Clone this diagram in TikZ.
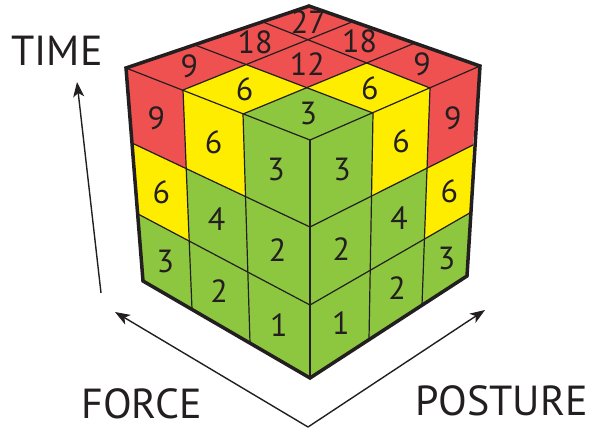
\documentclass[tikz,border=0pt]{standalone}
\usepackage{fontspec}
\setmainfont{PT Sans}
\usetikzlibrary{arrows.meta,calc}
\definecolor{cred}{RGB}{239,80,80}
\definecolor{cyel}{RGB}{255,237,0}
\definecolor{cgrn}{RGB}{141,198,63}
\definecolor{ink}{RGB}{35,31,32}
\newcommand\facecells[2]{%
  \foreach \p in {0,1,2}{\foreach \q in {0,1,2}{%
    \pgfmathtruncatemacro\pp{\p+1}%
    \pgfmathtruncatemacro\qq{\q+1}%
    \pgfmathtruncatemacro\val{#2*\pp*\qq}%
    \ifnum\val<5 \def\cc{cgrn}\else\ifnum\val<9 \def\cc{cyel}\else\def\cc{cred}\fi\fi
    \fill[\cc] (#1\p\q) -- (#1\pp\q) -- (#1\pp\qq) -- (#1\p\qq) -- cycle;
  }}}
\newcommand\facelabels[2]{%
  \foreach \p in {0,1,2}{\foreach \q in {0,1,2}{%
    \pgfmathtruncatemacro\pp{\p+1}%
    \pgfmathtruncatemacro\qq{\q+1}%
    \pgfmathtruncatemacro\val{#2*\pp*\qq}%
    \edef\tmpcmd{\noexpand\node[num] (n#1\p\q) at (intersection of #1\p\q--#1\pp\qq\space and #1\pp\q--#1\p\qq) {\val};}%
    \tmpcmd
  }}}
\newcommand\faceinner[1]{%
  \foreach \p in {1,2}{\foreach \q in {1,2}{%
    \edef\tmpcmd{\noexpand\coordinate (#1\p\q) at (intersection of #1\p0--#1\p3 and #10\q--#13\q);}%
    \tmpcmd
  }}}
\newcommand\facegrid[1]{%
  \foreach \p in {1,2}{\draw[cell] (#1\p0) -- (#1\p3); \draw[cell] (#10\p) -- (#13\p);}}
\begin{document}
\begin{tikzpicture}[x=1pt,y=-1pt,
  cell/.style={draw=ink, line width=1.2pt, line cap=round},
  outline/.style={draw=ink, line width=3.5pt, line join=miter},
  num/.style={text=ink, font=\fontsize{32}{32}\selectfont, inner sep=0pt},
  axislabel/.style={text=ink, font=\fontsize{42}{42}\selectfont, inner sep=0pt, anchor=base},
  axis/.style={draw=ink, line width=1.4pt, -{Stealth[length=15pt,width=11pt,inset=4pt]}}]
\useasboundingbox (0,0) rectangle (591,429);
% top face: p = force (towards L), q = posture (towards R)
\coordinate (t00) at (310,140);
\coordinate (t10) at (243,114);
\coordinate (t20) at (183,90);
\coordinate (t30) at (126,68);
\coordinate (t01) at (373,113);
\coordinate (t02) at (430,88);
\coordinate (t03) at (480,66);
\coordinate (t31) at (195,45);
\coordinate (t32) at (263,22);
\coordinate (t33) at (309,6);
\coordinate (t13) at (415,43);
\coordinate (t23) at (353,21.5);
% left face: p = force, q = time
\coordinate (l00) at (310,378);
\coordinate (l01) at (310,305);
\coordinate (l02) at (310,227);
\coordinate (l03) at (310,140);
\coordinate (l13) at (243,114);
\coordinate (l23) at (183,90);
\coordinate (l33) at (126,68);
\coordinate (l30) at (143,281);
\coordinate (l31) at (139,214.5);
\coordinate (l32) at (133,143.5);
\coordinate (l10) at (250,343);
\coordinate (l20) at (192,309);
% right face: p = posture, q = time
\coordinate (r00) at (310,378);
\coordinate (r01) at (310,305);
\coordinate (r02) at (310,227);
\coordinate (r03) at (310,140);
\coordinate (r13) at (373,113);
\coordinate (r23) at (430,88);
\coordinate (r33) at (480,66);
\coordinate (r30) at (467,276);
\coordinate (r31) at (470.5,212.5);
\coordinate (r32) at (473,145);
\coordinate (r10) at (369,339);
\coordinate (r20) at (422,305);
\faceinner{t}\faceinner{l}\faceinner{r}
\facecells{t}{3}\facecells{l}{1}\facecells{r}{1}
\facegrid{t}\facegrid{l}\facegrid{r}
\draw[cell] (t30) -- (t00) -- (t03);
\draw[cell] (l03) -- (l00);
\draw[outline] (t33) -- (t30) -- (l30) -- (l00) -- (r30) -- (t03) -- cycle;
\facelabels{t}{3}\facelabels{l}{1}\facelabels{r}{1}
% axes
\coordinate (V) at (308,427);
\coordinate (timetail) at (101,293);
\coordinate (timetip) at (77,82);
\coordinate (forcetip) at (115,312);
\coordinate (posturetip) at (485,310);
\draw[axis] (timetail) -- (timetip);
\draw[axis] (V) -- (forcetip);
\draw[axis] (V) -- (posturetip);
\node[axislabel] (time) at (57,65) {TIME};
\node[axislabel] (force) at (141.5,418) {FORCE};
\node[axislabel] (posture) at (501.5,415) {POSTURE};
\end{tikzpicture}
\end{document}
